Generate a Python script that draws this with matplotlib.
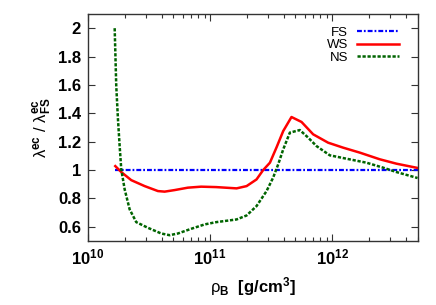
import numpy as np
import matplotlib
matplotlib.use("Agg")
import matplotlib.pyplot as plt
from matplotlib.ticker import FuncFormatter, LogLocator, FixedLocator

plt.rcParams["font.family"] = ["Liberation Sans", "DejaVu Sans"]
plt.rcParams["mathtext.fontset"] = "custom"
plt.rcParams["mathtext.rm"] = "Liberation Sans"
plt.rcParams["mathtext.bf"] = "Liberation Sans:bold"
plt.rcParams["mathtext.it"] = "Liberation Sans:italic"

# density rho_B [g/cm^3] and ratio lambda^ec / lambda^ec_FS
fs_rho = [1.67e10, 5.0e12]
fs_val = [1.0, 1.0]

ws_rho = [1.673e10, 1.873e10, 2.261e10, 2.911e10, 3.74e10, 4.243e10, 5.123e10,
          6.58e10, 8.45e10, 1.122e11, 1.648e11, 1.99e11, 2.40e11, 2.72e11,
          3.09e11, 3.50e11, 3.97e11, 4.64e11, 5.61e11, 6.98e11, 9.26e11,
          1.228e12, 1.682e12, 2.452e12, 3.36e12, 5.0e12]
ws_val = [1.028, 0.986, 0.929, 0.887, 0.852, 0.848, 0.859,
          0.876, 0.883, 0.880, 0.871, 0.887, 0.934, 1.0,
          1.052, 1.16, 1.275, 1.374, 1.339, 1.252, 1.193,
          1.158, 1.123, 1.076, 1.045, 1.015]

ns_rho = [1.654e10, 1.704e10, 1.76e10, 1.817e10, 1.873e10, 1.997e10, 2.194e10,
          2.485e10, 3.097e10, 3.98e10, 4.66e10, 5.45e10, 7.0e10, 9.02e10,
          1.122e11, 1.648e11, 1.99e11, 2.40e11, 2.90e11, 3.28e11, 3.61e11,
          3.97e11, 4.50e11, 5.43e11, 6.35e11, 7.44e11, 9.56e11, 1.309e12,
          1.909e12, 2.61e12, 3.36e12, 5.0e12]
ns_val = [2.0, 1.593, 1.358, 1.169, 1.005, 0.864, 0.723,
          0.633, 0.593, 0.553, 0.541, 0.553, 0.586, 0.617,
          0.633, 0.652, 0.680, 0.746, 0.852, 0.946, 1.040,
          1.146, 1.264, 1.282, 1.229, 1.169, 1.104, 1.080,
          1.052, 1.017, 0.986, 0.944]

fig = plt.figure(figsize=(4.36, 3.05), dpi=100)
ax = fig.add_axes([0.2018, 0.2098, 0.7576, 0.7443])

ax.plot(fs_rho, fs_val, color="#0000ff", lw=1.6, dashes=(2.2, 0.9, 0.8, 0.9), label="FS")
ax.plot(ws_rho, ws_val, color="#ff0000", lw=1.8, label="WS")
ax.plot(ns_rho, ns_val, color="#006400", lw=1.8, dashes=(1.3, 0.7), label="NS")

ax.set_xscale("log")
ax.set_xlim(1e10, 5.07e12)
ax.set_ylim(0.5, 2.1)

ax.yaxis.set_major_locator(FixedLocator([0.6, 0.8, 1.0, 1.2, 1.4, 1.6, 1.8, 2.0]))
ax.yaxis.set_major_formatter(FuncFormatter(lambda v, p: "%g" % round(v, 1)))
ax.xaxis.set_major_locator(LogLocator(base=10, numticks=10))
ax.xaxis.set_minor_locator(LogLocator(base=10, subs=np.arange(2, 10), numticks=10))
ax.xaxis.set_major_formatter(FuncFormatter(lambda v, p: r"$\mathbf{10^{%d}}$" % round(np.log10(v))))

ax.tick_params(which="both", direction="in", top=True, right=True, colors="#333333",
               labelcolor="black")
ax.tick_params(which="major", length=5, width=0.8, labelsize=12, pad=5)
ax.tick_params(which="minor", length=3, width=0.8)
for lab in ax.get_yticklabels():
    lab.set_fontweight("bold")
for s in ax.spines.values():
    s.set_color("#333333")
    s.set_linewidth(1.0)

ax.set_xlabel(r"ρ$_{\mathbf{B}}$  $\mathbf{[g/cm^{3}]}$", fontsize=12, labelpad=5)
ax.set_ylabel(r"λ$^{\mathbf{ec}}$ / λ$^{\mathbf{ec}}_{\mathbf{FS}}$", fontsize=12, labelpad=3)

ax.legend(loc="upper right", bbox_to_anchor=(0.975, 0.99), frameon=False, markerfirst=False,
          fontsize=9.5, handlelength=3.2, handletextpad=0.7, labelspacing=0.0, borderpad=0.3)

fig.savefig("out.png", dpi=100)
